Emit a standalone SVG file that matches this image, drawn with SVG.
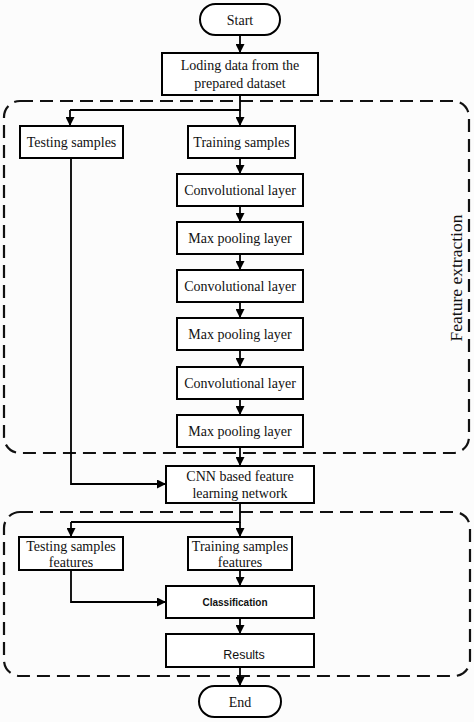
<svg xmlns="http://www.w3.org/2000/svg" width="474" height="722" viewBox="0 0 474 722">
<defs>
<marker id="ah" viewBox="0 0 10 10" refX="10" refY="5" markerWidth="9" markerHeight="9" markerUnits="userSpaceOnUse" orient="auto">
<path d="M0,0 L10,5 L0,10 Z" fill="#000"/>
</marker>
<style>
.box{fill:#fff;stroke:#000;stroke-width:2}
.t{font-family:"Liberation Serif","Times New Roman",serif;font-size:14px;fill:#111;text-anchor:middle}
.s{font-family:"Liberation Sans",Arial,sans-serif;fill:#111;text-anchor:middle}
.dash{fill:none;stroke:#111;stroke-width:2.2;stroke-dasharray:13,7}
.c{fill:none;stroke:#000;stroke-width:1.8}
.ca{fill:none;stroke:#000;stroke-width:1.8;marker-end:url(#ah)}
</style>
</defs>
<rect width="474" height="722" fill="#fcfcfc"/>
<g id="group-feature-extraction">
<rect class="dash" x="4" y="101" width="465" height="352" rx="16"/>
<text class="t" transform="translate(462,278) rotate(-90)" style="font-size:17.5px">Feature extraction</text>
</g>
<g id="group-classification">
<rect class="dash" x="4" y="512" width="466" height="164" rx="16"/>
</g>
<g id="connectors">
<path class="ca" d="M240,35 V53"/>
<path class="c" d="M240,95 V110 H70"/>
<path class="ca" d="M240,110 V126"/>
<path class="ca" d="M70,110 V126"/>
<path class="ca" d="M240,158 V174"/>
<path class="ca" d="M240,206 V222"/>
<path class="ca" d="M240,254 V270"/>
<path class="ca" d="M240,302 V318"/>
<path class="ca" d="M240,350 V367"/>
<path class="ca" d="M240,399 V415"/>
<path class="ca" d="M240,447 V466"/>
<path class="ca" d="M71,158 V484 H166"/>
<path class="c" d="M240,503 V522 H71"/>
<path class="ca" d="M240,522 V537"/>
<path class="ca" d="M71,522 V537"/>
<path class="ca" d="M240,570 V586"/>
<path class="ca" d="M71,570 V602 H166"/>
<path class="ca" d="M240,618 V634"/>
<path class="ca" d="M240,667 V686"/>
</g>
<g id="start"><rect class="box" x="200" y="4" width="80" height="31" rx="15.5"/><text class="t" x="240" y="25">Start</text></g>
<g id="loading"><rect class="box" x="162" y="53" width="156" height="42"/><text class="t" x="240" y="70">Loding data from the</text><text class="t" x="240" y="88">prepared dataset</text></g>
<g id="testing"><rect class="box" x="20" y="126" width="103" height="32"/><text class="t" x="71.5" y="147">Testing samples</text></g>
<g id="training"><rect class="box" x="188" y="126" width="107" height="32"/><text class="t" x="241.5" y="147">Training samples</text></g>
<g id="conv1"><rect class="box" x="177" y="174" width="126" height="32"/><text class="t" x="240" y="195">Convolutional layer</text></g>
<g id="pool1"><rect class="box" x="177" y="222" width="126" height="32"/><text class="t" x="240" y="243">Max pooling layer</text></g>
<g id="conv2"><rect class="box" x="177" y="270" width="126" height="32"/><text class="t" x="240" y="291">Convolutional layer</text></g>
<g id="pool2"><rect class="box" x="177" y="318" width="126" height="32"/><text class="t" x="240" y="339">Max pooling layer</text></g>
<g id="conv3"><rect class="box" x="177" y="367" width="126" height="32"/><text class="t" x="240" y="388">Convolutional layer</text></g>
<g id="pool3"><rect class="box" x="177" y="415" width="126" height="32"/><text class="t" x="240" y="436">Max pooling layer</text></g>
<g id="cnn"><rect class="box" x="166" y="466" width="148" height="37"/><text class="t" x="240" y="481">CNN based feature</text><text class="t" x="240" y="498">learning network</text></g>
<g id="testing-features"><rect class="box" x="19" y="537" width="104" height="33"/><text class="t" x="71" y="551">Testing samples</text><text class="t" x="71" y="567">features</text></g>
<g id="training-features"><rect class="box" x="188" y="537" width="104" height="33"/><text class="t" x="240" y="551">Training samples</text><text class="t" x="240" y="567">features</text></g>
<g id="classification"><rect class="box" x="166" y="586" width="148" height="32"/><text class="s" x="235" y="606" style="font-size:10px;font-weight:bold">Classification</text></g>
<g id="results"><rect class="box" x="166" y="634" width="148" height="33"/><text class="s" x="244" y="659" style="font-size:12.5px">Results</text></g>
<g id="end"><rect class="box" x="199" y="686" width="82" height="31" rx="15.5"/><text class="t" x="240" y="707">End</text></g>
</svg>
